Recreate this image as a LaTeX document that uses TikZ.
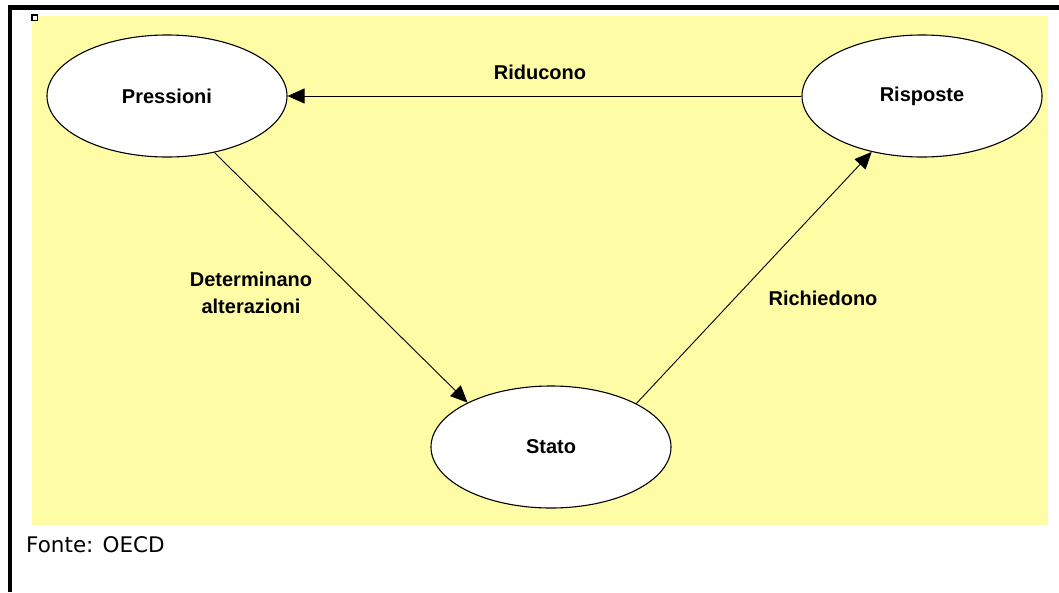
\documentclass[tikz,border=0pt]{standalone}
\usepackage{fontspec}
\setmainfont{Liberation Sans}
\newfontfamily\notefont{DejaVu Sans}
\usetikzlibrary{shapes.geometric,arrows.meta}

\definecolor{panelyellow}{RGB}{255,252,166}

\tikzset{
  stage/.style={ellipse, draw=black, line width=1.1pt, fill=white,
    minimum width=240pt, minimum height=122pt, inner sep=0pt,
    font=\fontsize{20}{23}\selectfont\bfseries},
  flow/.style={draw=black, line width=0.9pt,
    -{Triangle[length=17pt,width=15pt]}},
  flowlabel/.style={align=center, inner sep=0pt,
    font=\fontsize{20}{27}\selectfont\bfseries},
}

\begin{document}
\begin{tikzpicture}[x=1pt,y=-1pt]
  \useasboundingbox (0,0) rectangle (1059,592);
  % frame edges (top and left)
  \fill[black] (8,5) rectangle (1059,10);
  \fill[black] (8,5) rectangle (12,592);
  % yellow panel
  \fill[panelyellow] (32,16) rectangle (1048,525);
  % selection handle
  \draw[black, line width=1.6pt, fill=white] (32,15) rectangle (37.5,20.5);

  % the three stages
  \node[stage] (P) at (167,96) {Pressioni};
  \node[stage] (R) at (922,96) {Risposte};
  \node[stage] (S) at (551,447) {Stato};

  % connectors
  \draw[flow] (R.west) -- (P.east);
  \draw[flow] (P.-50) -- (S.152.4);
  \draw[flow] (S.27.6) -- (R.-132.3);

  % connector labels
  \node[flowlabel] (lr) at (540,72) {Riducono};
  \node[flowlabel] (ld) at (251,293) {Determinano\\alterazioni};
  \node[flowlabel] (lc) at (823,298) {Richiedono};

  % source note
  \node[anchor=west, inner sep=0pt, font=\notefont\fontsize{21.5}{25}\selectfont]
    (src) at (26,545) {Fonte: OECD};
\end{tikzpicture}
\end{document}
